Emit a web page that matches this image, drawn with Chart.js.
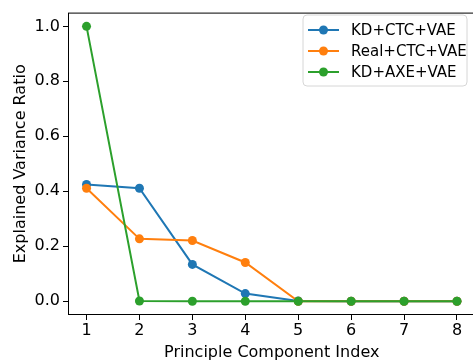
<!DOCTYPE html>
<html>
<head>
<meta charset="utf-8">
<script src="https://cdn.jsdelivr.net/npm/chart.js@4.4.0/dist/chart.umd.min.js"></script>
<style>
  html, body { margin: 0; padding: 0; background: #fff; overflow: hidden; }
  #wrap { width: 480px; height: 370px; }
</style>
</head>
<body>
<div id="wrap"><canvas id="grafico" width="480" height="370"></canvas></div>
<script>
// Dados do gráfico
const components = [1, 2, 3, 4, 5, 6, 7, 8];
const kdCtcVae = [0.425, 0.411, 0.134, 0.028, 0.001, 0, 0, 0];
const realCtcVae = [0.411, 0.227, 0.221, 0.141, 0.0, 0, 0, 0];
const kdAxeVae = [1.0, 0.001, 0, 0, 0, 0, 0, 0];
const xTicks = [1, 2, 3, 4, 5, 6, 7, 8];
const yTicks = [0.0, 0.2, 0.4, 0.6, 0.8, 1.0];

const seriesNames = ['KD+CTC+VAE', 'Real+CTC+VAE', 'KD+AXE+VAE'];
const seriesColors = ['#1f77b4', '#ff7f0e', '#2ca02c'];

const fonte = 'DejaVu Sans';

function pontos(valores) {
    return components.map((c, i) => ({ x: c, y: valores[i] }));
}

function serie(i, valores) {
    return {
        label: seriesNames[i],
        data: pontos(valores),
        borderColor: seriesColors[i],
        backgroundColor: seriesColors[i],
        borderWidth: 2,
        pointRadius: 4.5,
        pointHoverRadius: 4.5,
        pointBorderWidth: 0,
        tension: 0,
        fill: false,
        order: 3 - i
    };
}

// moldura e legenda no estilo matplotlib
const molduraLegenda = {
    id: 'molduraLegenda',
    afterDraw(chart) {
        const { ctx, chartArea: a } = chart;
        ctx.save();
        ctx.strokeStyle = '#000';
        ctx.lineWidth = 1;
        ctx.strokeRect(a.left + 0.5, a.top + 0.5, a.right - a.left - 1, a.bottom - a.top - 1);

        // caixa da legenda
        const x0 = 303, y0 = 15, w = 164, h = 71, r = 4;
        ctx.beginPath();
        ctx.moveTo(x0 + r, y0);
        ctx.arcTo(x0 + w, y0, x0 + w, y0 + h, r);
        ctx.arcTo(x0 + w, y0 + h, x0, y0 + h, r);
        ctx.arcTo(x0, y0 + h, x0, y0, r);
        ctx.arcTo(x0, y0, x0 + w, y0, r);
        ctx.closePath();
        ctx.fillStyle = 'rgba(255,255,255,0.8)';
        ctx.fill();
        ctx.strokeStyle = '#d6d6d6';
        ctx.stroke();

        ctx.font = '15px "' + fonte + '"';
        ctx.textBaseline = 'middle';
        ctx.textAlign = 'left';
        seriesNames.forEach((nome, i) => {
            const y = 30 + i * 21;
            ctx.strokeStyle = seriesColors[i];
            ctx.fillStyle = seriesColors[i];
            ctx.lineWidth = 2;
            ctx.beginPath();
            ctx.moveTo(308, y);
            ctx.lineTo(339, y);
            ctx.stroke();
            ctx.beginPath();
            ctx.arc(323.5, y, 4.5, 0, Math.PI * 2);
            ctx.fill();
            ctx.fillStyle = '#000';
            ctx.fillText(nome, 351, y + 1);
        });
        ctx.restore();
    }
};

const config = {
    type: 'line',
    data: {
        datasets: [
            serie(0, kdCtcVae),
            serie(1, realCtcVae),
            serie(2, kdAxeVae)
        ]
    },
    options: {
        responsive: false,
        animation: false,
        layout: { padding: { top: 8, right: 1, left: 0, bottom: 0 } },
        plugins: {
            legend: { display: false },
            tooltip: { enabled: false }
        },
        scales: {
            x: {
                type: 'linear',
                min: 0.65,
                max: 8.35,
                afterBuildTicks: (scale) => { scale.ticks = xTicks.map(v => ({ value: v })); },
                afterFit: (scale) => { scale.height = 55; },
                grid: { drawOnChartArea: false, drawTicks: true, tickLength: 5, color: '#000' },
                border: { display: false },
                ticks: {
                    color: '#000',
                    padding: 1,
                    maxRotation: 0,
                    font: { family: fonte, size: 16 },
                    callback: (v) => String(v)
                },
                title: {
                    display: true,
                    text: 'Principle Component Index',
                    color: '#000',
                    font: { family: fonte, size: 16 },
                    padding: { top: 0, bottom: 8 }
                }
            },
            y: {
                min: -0.05,
                max: 1.05,
                afterBuildTicks: (scale) => { scale.ticks = yTicks.map(v => ({ value: v })); },
                afterFit: (scale) => { scale.width = 68; },
                grid: { drawOnChartArea: false, drawTicks: true, tickLength: 5, color: '#000' },
                border: { display: false },
                ticks: {
                    color: '#000',
                    padding: 3,
                    font: { family: fonte, size: 16 },
                    callback: (v) => Number(v).toFixed(1)
                },
                title: {
                    display: true,
                    text: 'Explained Variance Ratio',
                    color: '#000',
                    font: { family: fonte, size: 16 },
                    padding: { top: 11, bottom: 0 }
                }
            }
        }
    },
    plugins: [molduraLegenda]
};

const ctx = document.getElementById('grafico').getContext('2d');
const grafico = new Chart(ctx, config);
</script>
</body>
</html>
